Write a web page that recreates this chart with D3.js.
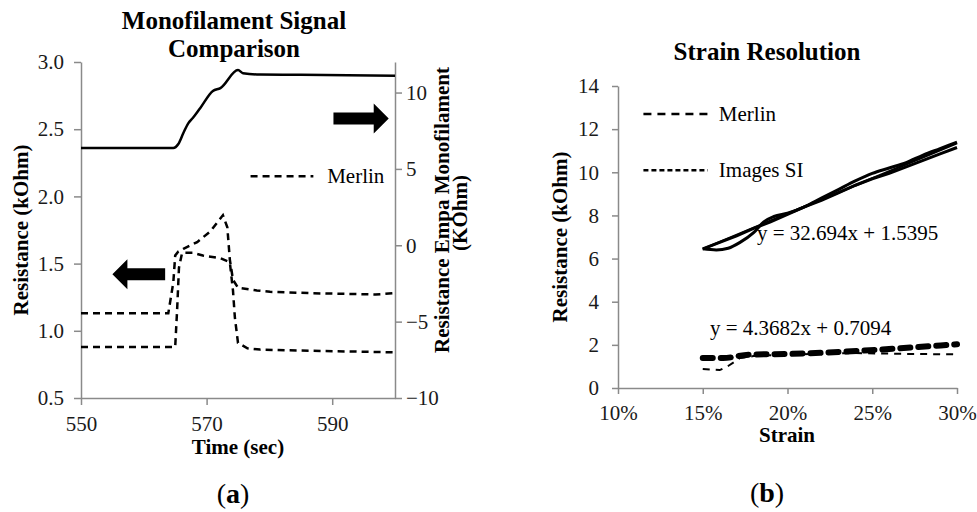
<!DOCTYPE html>
<html>
  <head>
    <meta charset="utf-8">
    <script src="https://d3js.org/d3.v7.min.js"></script>
    <title>Monofilament signal and strain resolution</title>
    <style>
      body { margin: 0; background: #fff; }
      svg, svg text { font-family: "Liberation Serif", "Times New Roman", serif; }
      .domain, .tick line { stroke: #8a8a8a; stroke-width: 1.5; }
      .tick text { fill: #1a1a1a; }
      .title { font-weight: bold; font-size: 25px; }
      .axis-label { font-weight: bold; font-size: 21px; }
      .legend { font-size: 21px; }
      .panel { font-size: 28px; }
    </style>
  </head>
  <body>
    <svg id="chart" width="977" height="512"></svg>
    <script>
      // (a) time series, time in sec
      const merlinTime1 = [550, 562.6, 563.9, 564.7, 565.0, 565.5, 566.3, 568.5, 570.6, 572.6, 573.3, 573.7, 574.2, 575.0, 578.0, 580.1, 586.5, 596.9, 600];
      const merlinVal1  = [1.13, 1.13, 1.13, 1.36, 1.56, 1.59, 1.61, 1.66, 1.74, 1.86, 1.77, 1.53, 1.38, 1.32, 1.30, 1.29, 1.28, 1.27, 1.28];
      const merlinTime2 = [550, 562.6, 565.0, 565.3, 565.6, 566.1, 567.8, 569.4, 572.2, 573.7, 574.2, 574.5, 575.0, 576.5, 578.5, 582.5, 600];
      const merlinVal2  = [0.88, 0.88, 0.88, 1.15, 1.47, 1.58, 1.58, 1.56, 1.54, 1.51, 1.30, 1.10, 0.91, 0.87, 0.86, 0.855, 0.84];
      const empaTime = [550, 562.6, 564.7, 565.5, 566.3, 567.1, 567.8, 569.0, 571.0, 572.2, 575.0, 575.8, 578.5, 585, 600];
      const empaVal  = [6.37, 6.37, 6.37, 6.63, 7.35, 8.0, 8.33, 8.99, 10.1, 10.29, 11.47, 11.27, 11.18, 11.16, 11.1];

      const leftTicksA = [0.5, 1.0, 1.5, 2.0, 2.5, 3.0];
      const rightTicksA = [-10, -5, 0, 5, 10];
      const timeTicks = [550, 570, 590];

      // (b) strain resolution, strain as fraction
      const loadStrain = [0.15, 0.158, 0.165, 0.172, 0.18, 0.186, 0.192, 0.20, 0.21, 0.22, 0.23, 0.24, 0.25, 0.26, 0.27, 0.28, 0.29, 0.30];
      const loadRes    = [6.45, 6.40, 6.48, 6.75, 7.2, 7.7, 7.95, 8.1, 8.4, 8.8, 9.2, 9.6, 9.95, 10.2, 10.45, 10.8, 11.1, 11.4];
      const unloadStrain = [0.30, 0.29, 0.28, 0.27, 0.26, 0.25, 0.24, 0.23, 0.22, 0.21, 0.20, 0.19, 0.18, 0.17, 0.16, 0.15];
      const unloadRes    = [11.15, 10.85, 10.55, 10.25, 9.95, 9.7, 9.4, 9.05, 8.7, 8.4, 8.05, 7.7, 7.4, 7.05, 6.75, 6.45];
      const trendHighStrain = [0.15, 0.30];
      const trendHighRes = [6.44, 11.35];
      const merlinStrain = [0.15, 0.16, 0.165, 0.172, 0.18, 0.20, 0.24, 0.27, 0.30];
      const merlinRes    = [0.88, 0.83, 1.02, 1.39, 1.48, 1.55, 1.62, 1.58, 1.56];
      const trendLowStrain = [0.15, 0.162, 0.178, 0.20, 0.30];
      const trendLowRes    = [1.39, 1.39, 1.55, 1.58, 2.03];

      const strainTicks = [0.10, 0.15, 0.20, 0.25, 0.30];
      const resTicksB = [0, 2, 4, 6, 8, 10, 12, 14];

      const svg = d3.select('#chart');
      const serif = '"Liberation Serif", "Times New Roman", serif';

      // d3 axes put sans-serif 10px on their group; swap to the chart font
      const styleAxis = g => g
          .attr('font-family', serif)
          .attr('font-size', 21);

      // ---------- (a) ----------
      const xA = d3.scaleLinear().domain([550, 600]).range([81, 395]);
      const yL = d3.scaleLinear().domain([0.5, 3]).range([398, 62]);
      const yR = d3.scaleLinear().domain([-10, 12]).range([398, 62]);

      svg.append('g')
          .attr('transform', 'translate(0,398)')
          .call(d3.axisBottom(xA).tickValues(timeTicks).tickSize(7).tickSizeOuter(0).tickPadding(11))
          .call(styleAxis);
      svg.append('g')
          .attr('transform', 'translate(81,0)')
          .call(d3.axisLeft(yL).tickValues(leftTicksA).tickFormat(d3.format('.1f')).tickSize(7).tickSizeOuter(0).tickPadding(10))
          .call(styleAxis);
      svg.append('g')
          .attr('transform', 'translate(395,0)')
          .call(d3.axisRight(yR).tickValues(rightTicksA).tickSize(7).tickSizeOuter(0).tickPadding(4))
          .call(styleAxis);

      const lineA = (ys) => d3.line().x(d => xA(d[0])).y(d => ys(d[1]));
      svg.append('path')
          .datum(d3.zip(empaTime, empaVal))
          .attr('fill', 'none').attr('stroke', '#000').attr('stroke-width', 2.5)
          .attr('d', lineA(yR).curve(d3.curveMonotoneX));
      [[merlinTime1, merlinVal1], [merlinTime2, merlinVal2]].forEach(([t, v]) => {
        svg.append('path')
            .datum(d3.zip(t, v))
            .attr('fill', 'none').attr('stroke', '#000').attr('stroke-width', 2.5)
            .attr('stroke-dasharray', '7,5')
            .attr('d', lineA(yL));
      });

      // arrows (data units)
      const arrow = (x0, x1, y, dir) => {
        const xs = [xA(x0), xA(x1)];
        const yy = yL(y);
        const tip = dir > 0 ? xs[1] : xs[0];
        const base = tip - dir * 15;
        const tail = dir > 0 ? xs[0] : xs[1];
        svg.append('path')
            .attr('fill', '#000')
            .attr('d', `M${tail},${yy - 6}L${base},${yy - 6}L${base},${yy - 15}L${tip},${yy}L${base},${yy + 15}L${base},${yy + 6}L${tail},${yy + 6}Z`);
      };
      arrow(590.2, 599.0, 2.58, 1);
      arrow(555, 563.4, 1.42, -1);

      svg.append('line')
          .attr('x1', xA(577.0)).attr('x2', xA(587.0))
          .attr('y1', yL(2.15)).attr('y2', yL(2.15))
          .attr('stroke', '#000').attr('stroke-width', 2.5).attr('stroke-dasharray', '7,5');
      svg.append('text').attr('class', 'legend')
          .attr('x', xA(589.2)).attr('y', yL(2.15) + 7).text('Merlin');

      svg.append('text').attr('class', 'title').attr('text-anchor', 'middle')
          .attr('x', 234).attr('y', 29).text('Monofilament Signal');
      svg.append('text').attr('class', 'title').attr('text-anchor', 'middle')
          .attr('x', 234).attr('y', 57).text('Comparison');
      svg.append('text').attr('class', 'axis-label').attr('text-anchor', 'middle')
          .attr('x', 238).attr('y', 454).text('Time (sec)');
      svg.append('text').attr('class', 'axis-label').attr('text-anchor', 'middle')
          .attr('transform', 'translate(28,230) rotate(-90)').text('Resistance (kOhm)');
      svg.append('text').attr('class', 'axis-label').attr('text-anchor', 'middle')
          .attr('transform', 'translate(449,210) rotate(-90)').text('Resistance Empa Monofilament');
      svg.append('text').attr('class', 'axis-label').attr('text-anchor', 'middle')
          .attr('transform', 'translate(467,213) rotate(-90)').text('(KOhm)');
      const pa = svg.append('text').attr('class', 'panel').attr('text-anchor', 'middle')
          .attr('x', 233).attr('y', 503);
      pa.append('tspan').text('(');
      pa.append('tspan').attr('font-weight', 'bold').text('a');
      pa.append('tspan').text(')');

      // ---------- (b) ----------
      const xB = d3.scaleLinear().domain([0.10, 0.30]).range([618, 957]);
      const yB = d3.scaleLinear().domain([0, 14]).range([388, 86]);

      svg.append('g')
          .attr('transform', 'translate(0,388)')
          .call(d3.axisBottom(xB).tickValues(strainTicks).tickFormat(d3.format('.0%')).tickSize(6).tickSizeOuter(0).tickPadding(11))
          .call(styleAxis);
      svg.append('g')
          .attr('transform', 'translate(618,0)')
          .call(d3.axisLeft(yB).tickValues(resTicksB).tickSize(6).tickSizeOuter(0).tickPadding(13))
          .call(styleAxis);

      const lineB = d3.line().x(d => xB(d[0])).y(d => yB(d[1]));
      svg.append('path').datum(d3.zip(loadStrain, loadRes))
          .attr('fill', 'none').attr('stroke', '#000').attr('stroke-width', 3)
          .attr('d', lineB.curve(d3.curveMonotoneX));
      svg.append('path').datum(d3.zip(unloadStrain, unloadRes))
          .attr('fill', 'none').attr('stroke', '#000').attr('stroke-width', 3)
          .attr('d', d3.line().x(d => xB(d[0])).y(d => yB(d[1])));
      svg.append('path').datum(d3.zip(trendHighStrain, trendHighRes))
          .attr('fill', 'none').attr('stroke', '#000').attr('stroke-width', 2.5)
          .attr('d', d3.line().x(d => xB(d[0])).y(d => yB(d[1])));
      svg.append('path').datum(d3.zip(merlinStrain, merlinRes))
          .attr('fill', 'none').attr('stroke', '#000').attr('stroke-width', 2)
          .attr('stroke-dasharray', '7,6')
          .attr('d', d3.line().x(d => xB(d[0])).y(d => yB(d[1])));
      svg.append('path').datum(d3.zip(trendLowStrain, trendLowRes))
          .attr('fill', 'none').attr('stroke', '#000').attr('stroke-width', 6)
          .attr('stroke-linecap', 'round').attr('stroke-dasharray', '10,8')
          .attr('d', d3.line().x(d => xB(d[0])).y(d => yB(d[1])).curve(d3.curveMonotoneX));

      // legend
      const legB = [['Merlin', 12.7, '8,6'], ['Images SI', 10.1, '5,3']];
      legB.forEach(([name, y, dash]) => {
        svg.append('line')
            .attr('x1', xB(0.115)).attr('x2', xB(0.153))
            .attr('y1', yB(y)).attr('y2', yB(y))
            .attr('stroke', '#000').attr('stroke-width', 2.5).attr('stroke-dasharray', dash);
        svg.append('text').attr('class', 'legend')
            .attr('x', xB(0.1595)).attr('y', yB(y) + 7).text(name);
      });

      svg.append('text').attr('class', 'legend')
          .attr('x', 757).attr('y', 240).text('y = 32.694x + 1.5395');
      svg.append('text').attr('class', 'legend')
          .attr('x', 710).attr('y', 335).text('y = 4.3682x + 0.7094');

      svg.append('text').attr('class', 'title').attr('text-anchor', 'middle')
          .attr('x', 767).attr('y', 60).text('Strain Resolution');
      svg.append('text').attr('class', 'axis-label').attr('text-anchor', 'middle')
          .attr('x', 787).attr('y', 442).text('Strain');
      svg.append('text').attr('class', 'axis-label').attr('text-anchor', 'middle')
          .attr('transform', 'translate(567,237) rotate(-90)').text('Resistance (kOhm)');
      const pb = svg.append('text').attr('class', 'panel').attr('text-anchor', 'middle')
          .attr('x', 767).attr('y', 502);
      pb.append('tspan').text('(');
      pb.append('tspan').attr('font-weight', 'bold').text('b');
      pb.append('tspan').text(')');
    </script>
  </body>
</html>
